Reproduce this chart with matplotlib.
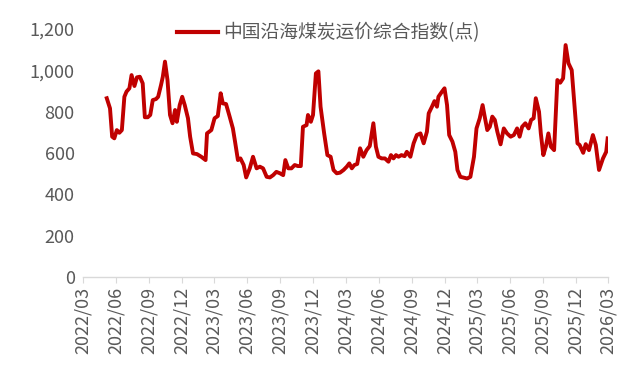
import matplotlib
matplotlib.use("Agg")
import matplotlib.pyplot as plt
import matplotlib.dates as mdates
import numpy as np
import pandas as pd

plt.rcParams['font.family'] = ['Noto Sans CJK SC', 'DejaVu Sans']

series_name = "中国沿海煤炭运价综合指数(点)"

dates = [
    "2022-05-06", "2022-05-15", "2022-05-21", "2022-05-27", "2022-06-03", "2022-06-10", "2022-06-17",
    "2022-06-24", "2022-06-30", "2022-07-08", "2022-07-14", "2022-07-22", "2022-07-29", "2022-08-06",
    "2022-08-14", "2022-08-20", "2022-08-28", "2022-09-04", "2022-09-11", "2022-09-20", "2022-09-26",
    "2022-10-04", "2022-10-09", "2022-10-15", "2022-10-22", "2022-10-29", "2022-11-05", "2022-11-12",
    "2022-11-17", "2022-11-25", "2022-12-02", "2022-12-09", "2022-12-18", "2022-12-24", "2023-01-01",
    "2023-01-12", "2023-01-24", "2023-02-05", "2023-02-09", "2023-02-21", "2023-03-02", "2023-03-11",
    "2023-03-19", "2023-03-25", "2023-04-03", "2023-04-13", "2023-04-22", "2023-04-28", "2023-05-06",
    "2023-05-13", "2023-05-22", "2023-05-29", "2023-06-08", "2023-06-17", "2023-06-27", "2023-07-06",
    "2023-07-15", "2023-07-25", "2023-08-03", "2023-08-12", "2023-08-21", "2023-08-31", "2023-09-09",
    "2023-09-15", "2023-09-23", "2023-10-02", "2023-10-11", "2023-10-20", "2023-10-28", "2023-11-03",
    "2023-11-13", "2023-11-17", "2023-11-25", "2023-12-01", "2023-12-09", "2023-12-16", "2023-12-22",
    "2024-01-01", "2024-01-10", "2024-01-19", "2024-01-27", "2024-02-05", "2024-02-14", "2024-02-24",
    "2024-03-04", "2024-03-11", "2024-03-18", "2024-03-25", "2024-04-02", "2024-04-10", "2024-04-19",
    "2024-04-28", "2024-05-07", "2024-05-17", "2024-05-24", "2024-05-31", "2024-06-09", "2024-06-18",
    "2024-06-28", "2024-07-05", "2024-07-12", "2024-07-19", "2024-07-26", "2024-08-03", "2024-08-12",
    "2024-08-18", "2024-08-28", "2024-09-06", "2024-09-15", "2024-09-25", "2024-10-04", "2024-10-13",
    "2024-10-18", "2024-10-27", "2024-11-03", "2024-11-10", "2024-11-14", "2024-11-24", "2024-12-01",
    "2024-12-08", "2024-12-14", "2024-12-23", "2024-12-31", "2025-01-06", "2025-01-14", "2025-01-24",
    "2025-02-02", "2025-02-11", "2025-02-21", "2025-02-28", "2025-03-09", "2025-03-17", "2025-03-22",
    "2025-03-30", "2025-04-06", "2025-04-13", "2025-04-20", "2025-04-27", "2025-05-06", "2025-05-15",
    "2025-05-24", "2025-06-03", "2025-06-12", "2025-06-21", "2025-06-28", "2025-07-05", "2025-07-14",
    "2025-07-23", "2025-07-30", "2025-08-06", "2025-08-12", "2025-08-21", "2025-08-26", "2025-09-02",
    "2025-09-09", "2025-09-16", "2025-09-23", "2025-10-02", "2025-10-11", "2025-10-19", "2025-10-27",
    "2025-11-03", "2025-11-11", "2025-11-20", "2025-12-06", "2025-12-12", "2025-12-22", "2025-12-29",
    "2026-01-07", "2026-01-18", "2026-01-26", "2026-02-04", "2026-02-15", "2026-02-24", "2026-02-28",
]

values = [
    865, 816, 679, 671, 711, 698, 711,
    872, 897, 913, 977, 924, 966, 969,
    937, 773, 773, 784, 856, 861, 872,
    929, 969, 1042, 953, 784, 744, 808,
    751, 832, 872, 832, 768, 679, 598,
    595, 582, 566, 695, 711, 768, 779,
    889, 840, 837, 776, 719, 655, 566,
    574, 542, 482, 526, 582, 526, 534,
    526, 485, 482, 493, 509, 502, 493,
    566, 526, 526, 542, 537, 537, 727,
    735, 784, 751, 784, 985, 995, 824,
    695, 590, 582, 518, 502, 505, 518,
    534, 550, 526, 542, 547, 623, 582,
    614, 634, 744, 631, 582, 574, 574,
    558, 590, 574, 590, 582, 590, 585,
    606, 582, 647, 687, 695, 647, 703,
    792, 824, 851, 824, 872, 897, 913,
    832, 687, 655, 606, 518, 485, 481,
    477, 485, 582, 719, 768, 832, 784,
    711, 727, 776, 760, 703, 642, 719,
    695, 679, 687, 719, 679, 727, 744,
    719, 760, 768, 865, 800, 695, 590,
    631, 695, 631, 614, 953, 940, 961,
    1122, 1034, 1001, 647, 639, 601, 643,
    614, 687, 639, 518, 574, 606, 671,
]

tick_labels = ["2022/03", "2022/06", "2022/09", "2022/12", "2023/03", "2023/06", "2023/09",
               "2023/12", "2024/03", "2024/06", "2024/09", "2024/12", "2025/03", "2025/06",
               "2025/09", "2025/12", "2026/03"]
y_ticks = [0, 200, 400, 600, 800, 1000, 1200]

x = pd.to_datetime(dates)
tick_dates = pd.to_datetime([t.replace("/", "-") + "-01" for t in tick_labels])

fig = plt.figure(figsize=(6.34, 3.76), dpi=100)
ax = fig.add_axes([0.131, 0.263, 0.828, 0.660])

ax.plot(x, values, color="#C00000", linewidth=2.8, solid_joinstyle="round",
        label=series_name)

ax.set_xlim(tick_dates[0], tick_dates[-1])
ax.set_ylim(0, 1200)
ax.set_yticks(y_ticks)
ax.set_yticklabels([f"{v:,}" for v in y_ticks])
ax.set_xticks(tick_dates)
ax.set_xticklabels(tick_labels, rotation=90)

text_color = "#595959"
ax.tick_params(axis="y", length=0, labelsize=13, colors=text_color, pad=6)
ax.tick_params(axis="x", length=4, width=0.8, color="#D9D9D9", labelsize=13,
               labelcolor=text_color, pad=3)

for side in ["top", "right", "left"]:
    ax.spines[side].set_visible(False)
ax.spines["bottom"].set_color("#D9D9D9")
ax.spines["bottom"].set_linewidth(1.0)

leg = ax.legend(loc="center", bbox_to_anchor=(0.467, 0.984), frameon=False,
                fontsize=13.5, handlelength=2.2, handletextpad=0.25,
                labelcolor=text_color)
for line in leg.get_lines():
    line.set_linewidth(3)

fig.savefig("out.png", dpi=100)
